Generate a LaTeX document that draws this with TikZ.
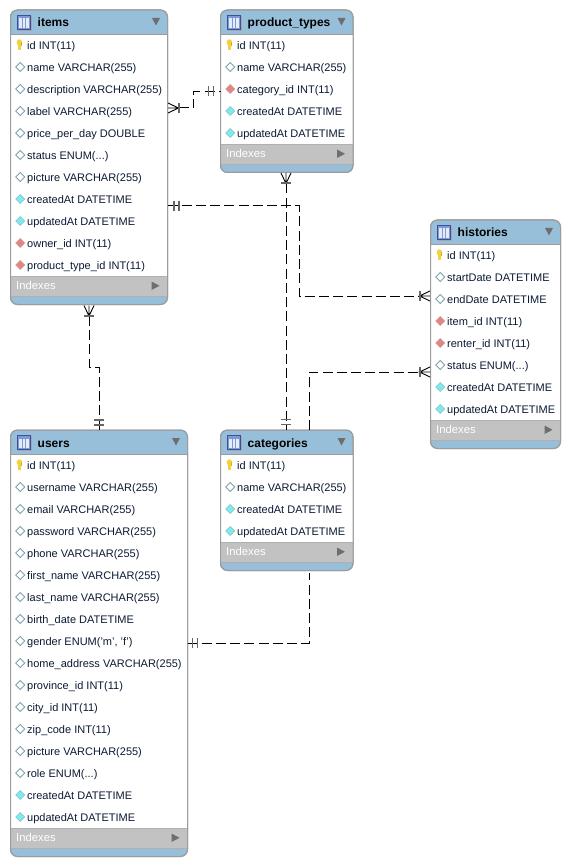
\documentclass[tikz,border=0pt]{standalone}
\usepackage{fontspec}
\setmainfont{Liberation Sans}
\usetikzlibrary{calc}
\definecolor{hdr}{HTML}{98BFDA}
\definecolor{edge}{HTML}{9C9C9C}
\definecolor{idx}{HTML}{C2C2C2}
\definecolor{txt}{HTML}{0B1A33}
\definecolor{tri}{HTML}{6E6E6E}
\definecolor{barc}{HTML}{666666}
\definecolor{HTMLtealgray}{HTML}{7FA3A8}
\definecolor{HTMLred}{HTML}{E8837F}
\definecolor{HTMLredb}{HTML}{C4A0A0}
\definecolor{HTMLcyan}{HTML}{7CEBF0}
\definecolor{HTMLcyanb}{HTML}{8CC0C4}
\definecolor{HTMLgold}{HTML}{F4D23C}
\definecolor{HTMLkeyd}{HTML}{D6AE20}
\definecolor{HTMLicon}{HTML}{7D9AD8}
\definecolor{HTMLiconb}{HTML}{3C4F9C}
\tikzset{
  x=1pt,y=-1pt,
  tablebody/.style={draw=edge,line width=1pt,rounded corners=7pt,anchor=north west,inner sep=0pt,outer sep=0pt},
  rowtext/.style={anchor=base west,inner sep=0pt,text=txt,font=\fontsize{11}{13}\selectfont},
  titletext/.style={anchor=base west,inner sep=0pt,text=black,font=\fontsize{12}{14}\selectfont\bfseries},
  idxtext/.style={anchor=base west,inner sep=0pt,text=white,font=\fontsize{11.3}{13}\selectfont},
  relation/.style={line width=1pt,black,dash pattern=on 10pt off 4.2pt},
  diamondwhite/.style={fill=white,draw=HTMLtealgray,line width=.8pt},
  diamondred/.style={fill=HTMLred,draw=HTMLredb,line width=.6pt},
  diamondcyan/.style={fill=HTMLcyan,draw=HTMLcyanb,line width=.6pt},
}
\newcommand{\icondiam}[3]{\path[#3] (#1-4.5,#2) -- (#1,#2-4.5) -- (#1+4.5,#2) -- (#1,#2+4.5) -- cycle;}
\newcommand{\iconk}[2]{%
  \fill[HTMLgold] (#1-1.3,#2-1) rectangle (#1+1.1,#2+4.6);
  \fill[HTMLgold] (#1,#2-2.6) ellipse [x radius=2.7,y radius=3.1];
  \fill[HTMLkeyd] (#1+1.1,#2-3) rectangle (#1+2.3,#2+1);}
\newcommand{\rowicon}[3]{%
  \ifx#1k\iconk{#2-.8}{#3}\fi
  \ifx#1w\icondiam{#2}{#3}{diamondwhite}\fi
  \ifx#1r\icondiam{#2}{#3}{diamondred}\fi
  \ifx#1c\icondiam{#2}{#3}{diamondcyan}\fi}
% name, x, y, width, number of rows, title, rows
\newcommand{\erbox}[7]{%
  \pgfmathsetmacro{\rb}{#3+24+22*#5}
  \pgfmathsetmacro{\tot}{24+22*#5+28.5}
  \pgfmathsetmacro{\xr}{#2+#4}
  \node[tablebody,fill=hdr,minimum width=#4pt,minimum height=\tot pt] (#1-fill) at (#2,#3) {};
  \fill[white] (#2,#3+24) rectangle (\xr,\rb);
  \fill[idx] (#2,\rb) rectangle (\xr,\rb+20);
  \draw[edge,line width=.8pt] (#2,#3+24) -- (\xr,#3+24);
  \draw[edge!80!white,line width=.8pt] (#2,\rb) -- (\xr,\rb);
  \draw[edge!80!white,line width=.8pt] (#2,\rb+20) -- (\xr,\rb+20);
  \node[tablebody,minimum width=#4pt,minimum height=\tot pt] (#1) at (#2,#3) {};
  % title icon
  \fill[black!35] (#2+7.5,#3+6) rectangle (#2+21,#3+21);
  \draw[HTMLiconb,fill=HTMLicon,line width=.9pt] (#2+6.8,#3+5.5) rectangle (#2+19.8,#3+19.5);
  \fill[white!80!HTMLicon] (#2+8.5,#3+8.5) rectangle (#2+18.2,#3+18);
  \draw[HTMLicon,line width=.7pt] (#2+11.5,#3+8.5) -- (#2+11.5,#3+18) (#2+15,#3+8.5) -- (#2+15,#3+18);
  \node[titletext] (#1-title) at (#2+27,#3+17) {#6};
  \fill[tri] (\xr-15.5,#3+8) -- (\xr-7.5,#3+8) -- (\xr-11.5,#3+15.5) -- cycle;
  \foreach \kind/\label [count=\ii] in {#7}{
    \pgfmathsetmacro{\ry}{#3+24+22*\ii-11}
    \expandafter\rowicon\kind{#2+9.7}{\ry}
    \node[rowtext] (#1-r\ii) at (#2+16.5,\ry+4.6) {\label};
  }
  \node[idxtext] (#1-idx) at (#2+5.5,\rb+13.5) {Indexes};
  \fill[tri] (\xr-16,\rb+5.5) -- (\xr-8,\rb+9.8) -- (\xr-16,\rb+14) -- cycle;
}
% crow's foot: apex point, then angle pointing towards the table
\newcommand{\crowfoot}[2]{%
  \begin{scope}[shift={(#1)},rotate=#2]
    \draw[black,line width=.9pt] (10.5,-5) -- (0,0) -- (10.5,5) (0,0) -- (10.5,0);
    \draw[barc,line width=2pt] (0,-5) -- (0,5);
  \end{scope}}
% double bar: point on the line, angle of the line
\newcommand{\twobars}[2]{%
  \begin{scope}[shift={(#1)},rotate=#2]
    \draw[barc,line width=1.6pt] (-2.5,-5) -- (-2.5,5) (2.5,-5) -- (2.5,5);
  \end{scope}}
\begin{document}
\begin{tikzpicture}
\useasboundingbox[fill=white] (0,0) rectangle (570,866);
\erbox{items}{10.5}{10}{157}{11}{items}{k/{id INT(11)},w/{name VARCHAR(255)},w/{description VARCHAR(255)},w/{label VARCHAR(255)},w/{price\_per\_day DOUBLE},w/{status ENUM(...)},w/{picture VARCHAR(255)},c/{createdAt DATETIME},c/{updatedAt DATETIME},r/{owner\_id INT(11)},r/{product\_type\_id INT(11)}}
\erbox{ptypes}{220.5}{10}{132.5}{5}{product\_types}{k/{id INT(11)},w/{name VARCHAR(255)},r/{category\_id INT(11)},c/{createdAt DATETIME},c/{updatedAt DATETIME}}
\erbox{histories}{430.5}{220}{130}{8}{histories}{k/{id INT(11)},w/{startDate DATETIME},w/{endDate DATETIME},r/{item\_id INT(11)},r/{renter\_id INT(11)},w/{status ENUM(...)},c/{createdAt DATETIME},c/{updatedAt DATETIME}}
\erbox{users}{10.5}{430}{177}{17}{users}{k/{id INT(11)},w/{username VARCHAR(255)},w/{email VARCHAR(255)},w/{password VARCHAR(255)},w/{phone VARCHAR(255)},w/{first\_name VARCHAR(255)},w/{last\_name VARCHAR(255)},w/{birth\_date DATETIME},w/{gender ENUM('m', 'f')},w/{home\_address VARCHAR(255)},w/{province\_id INT(11)},w/{city\_id INT(11)},w/{zip\_code INT(11)},w/{picture VARCHAR(255)},w/{role ENUM(...)},c/{createdAt DATETIME},c/{updatedAt DATETIME}}
\erbox{categories}{220.5}{430}{132.5}{4}{categories}{k/{id INT(11)},w/{name VARCHAR(255)},c/{createdAt DATETIME},c/{updatedAt DATETIME}}
% items -- product_types
\coordinate (ap) at ($(items.north east)+(11,98)$);
\coordinate (bp) at ($(ptypes.north west)+(0,81.5)$);
\draw[relation] (ap) -- ++(15,0) |- (bp);
\crowfoot{ap}{180}
\twobars{$(bp)+(-9.5,0)$}{0}
% product_types -- categories
\coordinate (cp) at ($(ptypes.south west)+(65.5,11)$);
\coordinate (dp) at ($(categories.north west)+(65.5,0)$);
\draw[relation] (cp) -- (dp);
\crowfoot{cp}{90}
\twobars{$(dp)+(0,-8)$}{90}
% items -- histories
\coordinate (ep) at ($(items.north east)+(0,196)$);
\coordinate (fp) at ($(histories.north west)+(-11,76)$);
\coordinate (fk) at ($(ep)+(131.5,0)$);
\draw[relation] (ep) -- (fk) |- (fp);
\twobars{$(ep)+(9,0)$}{0}
\crowfoot{fp}{0}
% categories -- histories
\coordinate (gp) at ($(categories.north west)+(89,0)$);
\coordinate (hp) at ($(histories.north west)+(-11,152)$);
\draw[relation] (gp) |- (hp);
\crowfoot{hp}{0}
% items -- users
\coordinate (ip) at ($(items.south west)+(78.5,11.5)$);
\coordinate (jp) at ($(users.north west)+(88.5,0)$);
\draw[relation] (ip) -- ++(0,51) -| (jp);
\crowfoot{ip}{90}
\twobars{$(jp)+(0,-7.5)$}{90}
% users -- categories
\coordinate (kp) at ($(users.north east)+(0,213)$);
\coordinate (lp) at ($(categories.south west)+(89,2)$);
\draw[relation] (kp) -| (lp);
\twobars{$(kp)+(7.5,0)$}{0}
\end{tikzpicture}
\end{document}
